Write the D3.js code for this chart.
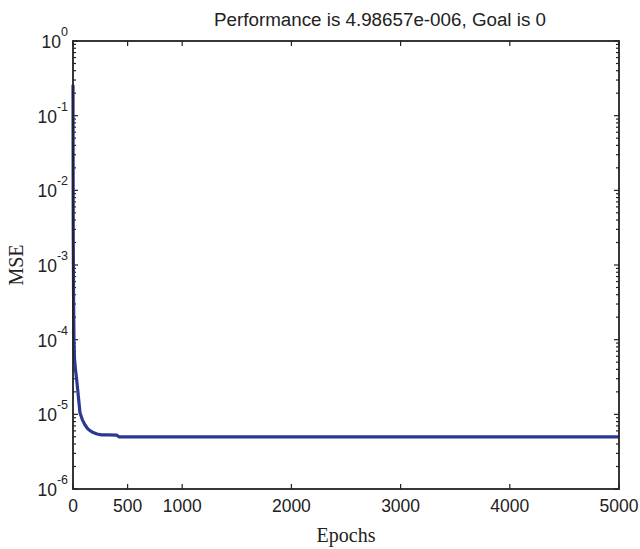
<!DOCTYPE html>
<html>
<head>
<meta charset="utf-8">
<script src="https://d3js.org/d3.v7.min.js"></script>
<style>
  body { margin: 0; background: #fff; }
  .tick-label { font-family: "Liberation Sans", Arial, sans-serif; font-size: 17.5px; fill: #222; }
  .axis-title { font-family: "Liberation Serif", "Times New Roman", serif; font-size: 20px; fill: #222; }
  .title { font-family: "Liberation Sans", Arial, sans-serif; font-size: 18.8px; fill: #222; }
</style>
</head>
<body>
<div id="chart"></div>
<script>
// training record (epochs vs mse)
var epochs = [0, 2, 5, 9, 14, 24, 34, 48, 64, 85, 110, 135, 160, 185, 220, 260, 320, 400, 420, 5000];
var mse = [0.26, 3e-3, 4e-4, 1.0e-4, 5.5e-5, 3.8e-5, 2.9e-5, 1.8e-5, 1.05e-5, 8.5e-6, 7.2e-6, 6.4e-6, 6.0e-6,
           5.7e-6, 5.45e-6, 5.3e-6, 5.3e-6, 5.28e-6, 4.99e-6, 4.98657e-6];

var xTicks = [0, 500, 1000, 2000, 3000, 4000, 5000];
var yExponents = [0, -1, -2, -3, -4, -5, -6];
var titleText = "Performance is 4.98657e-006, Goal is 0";

var margin = {top: 41, right: 21, bottom: 60, left: 73};
var width = 640 - margin.left - margin.right;
var height = 549 - margin.top - margin.bottom;

var svg = d3.select("#chart")
            .append("svg")
              .attr("width", 640)
              .attr("height", 549);

var chart = svg.append("g")
                .attr("transform", "translate(" + margin.left + "," + margin.top + ")");

var data = epochs.map(function(e, i) { return {epoch: e, mse: mse[i]}; });

// scales
var xScale = d3.scaleLinear()
                .domain([0, 5000])
                .range([0, width]);

var yScale = d3.scaleLog()
                .domain([1e-6, 1])
                .range([height, 0]);

var axisColour = "#222";
var majorLen = 5;
var minorLen = 3;

// all log ticks (1..9 per decade)
var logTicks = yScale.ticks();

// left + right ticks (inward)
[0, width].forEach(function(xPos) {
  var dir = xPos === 0 ? 1 : -1;
  chart.selectAll(null)
        .data(logTicks)
        .enter()
       .append("line")
        .attr("x1", xPos)
        .attr("x2", function(d) {
          var major = Math.abs(Math.log10(d) - Math.round(Math.log10(d))) < 1e-9;
          return xPos + dir * (major ? majorLen : minorLen);
        })
        .attr("y1", function(d) { return yScale(d); })
        .attr("y2", function(d) { return yScale(d); })
        .attr("stroke", axisColour)
        .attr("stroke-width", 1.2);
});

// top + bottom ticks (inward)
[0, height].forEach(function(yPos) {
  var dir = yPos === 0 ? 1 : -1;
  chart.selectAll(null)
        .data(xTicks)
        .enter()
       .append("line")
        .attr("x1", function(d) { return xScale(d); })
        .attr("x2", function(d) { return xScale(d); })
        .attr("y1", yPos)
        .attr("y2", yPos + dir * majorLen)
        .attr("stroke", axisColour)
        .attr("stroke-width", 1.2);
});

// x tick labels
chart.selectAll(".x-label")
      .data(xTicks)
      .enter()
     .append("text")
      .attr("class", "tick-label x-label")
      .attr("x", function(d) { return xScale(d); })
      .attr("y", height + 23)
      .attr("text-anchor", "middle")
      .text(function(d) { return d; });

// y tick labels as 10^n
var yLabels = chart.selectAll(".y-label")
                    .data(yExponents)
                    .enter()
                   .append("text")
                    .attr("class", "tick-label y-label")
                    .attr("text-anchor", "end")
                    .attr("x", -5)
                    .attr("y", function(d) { return yScale(Math.pow(10, d)) + 7; });

yLabels.append("tspan")
        .text("10");
yLabels.append("tspan")
        .attr("dy", -12)
        .style("font-size", "12.5px")
        .text(function(d) { return d; });

// mse line
var line = d3.line()
              .x(function(d) { return xScale(d.epoch); })
              .y(function(d) { return yScale(d.mse); });

chart.append("path")
      .datum(data)
      .attr("d", line)
      .attr("fill", "none")
      .attr("stroke", "#2b3894")
      .attr("stroke-width", 3.2)
      .attr("stroke-linejoin", "round");

// frame
chart.append("rect")
      .attr("width", width)
      .attr("height", height)
      .attr("fill", "none")
      .attr("stroke", axisColour)
      .attr("stroke-width", 1.8);

// titles
chart.append("text")
      .attr("class", "title")
      .attr("x", 380 - margin.left)
      .attr("y", -15)
      .attr("text-anchor", "middle")
      .text(titleText);

chart.append("text")
      .attr("class", "axis-title")
      .attr("x", width / 2)
      .attr("y", height + 53)
      .attr("text-anchor", "middle")
      .text("Epochs");

chart.append("text")
      .attr("class", "axis-title")
      .attr("transform", "translate(" + (-50) + "," + (height / 2) + ") rotate(-90)")
      .attr("text-anchor", "middle")
      .text("MSE");
</script>
</body>
</html>
